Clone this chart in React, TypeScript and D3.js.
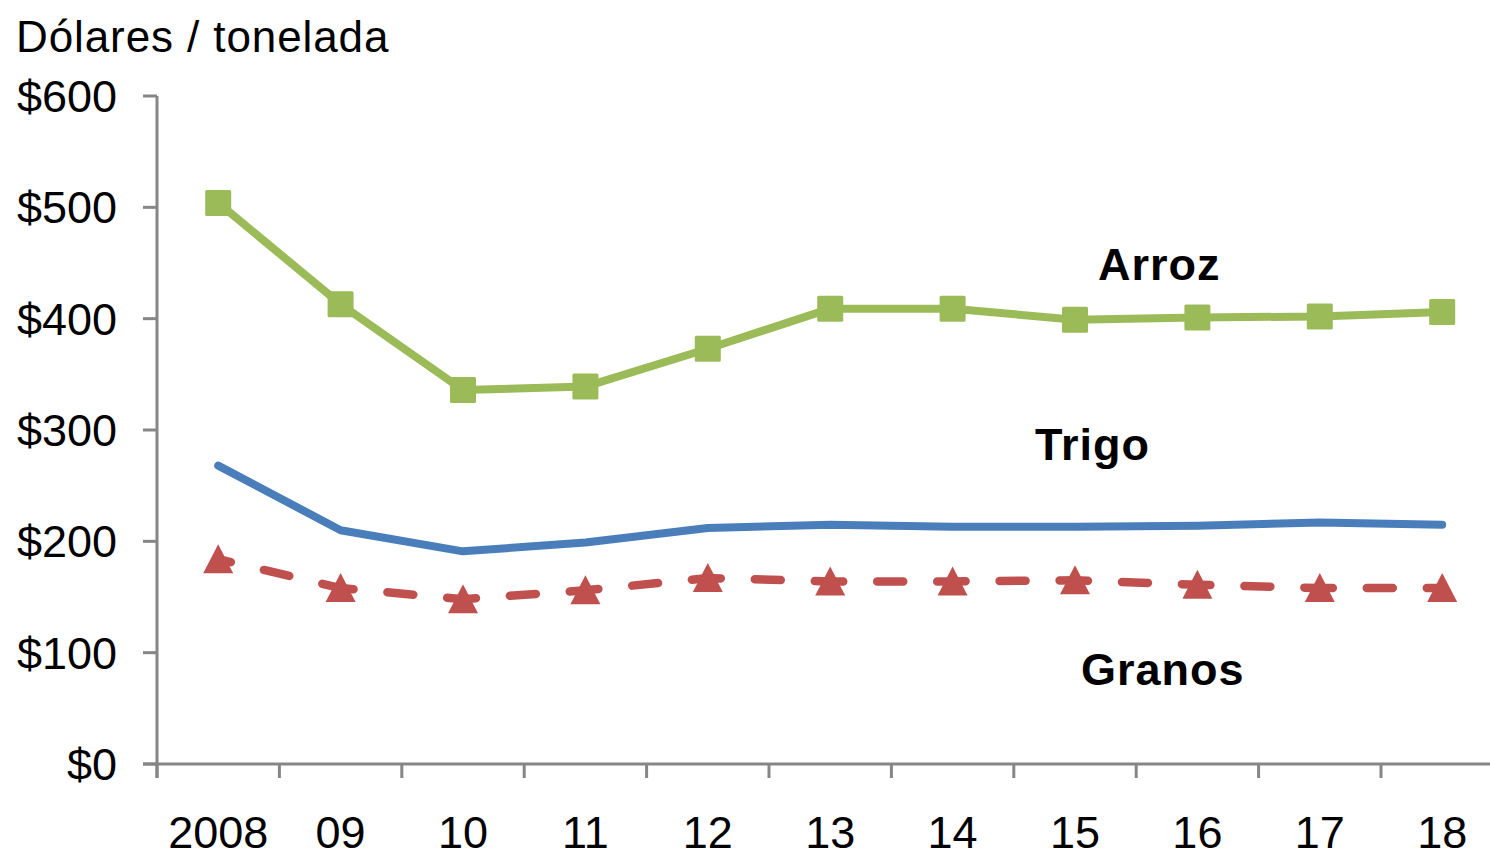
import React from "react";
import * as d3 from "d3";

const years = ["2008", "09", "10", "11", "12", "13", "14", "15", "16", "17", "18"];
const arroz = [504, 413, 336, 339, 373, 409, 409, 399, 401, 402, 406];
const trigo = [268, 210, 191, 199, 212, 215, 213, 213, 214, 217, 215];
const granos = [184, 158, 148, 156, 167, 164, 164, 165, 161, 158, 158];
const yTicks = [0, 100, 200, 300, 400, 500, 600];

const W = 1490;
const H = 851;
const FONT = "'Liberation Sans', Arial, sans-serif";

export default function App() {
  const x = d3.scaleBand<string>().domain(years).range([157, 157 + 122.4 * years.length]).paddingInner(0).paddingOuter(0);
  const y = d3.scaleLinear().domain([0, 600]).range([764, 96]);
  const cx = (i: number) => (x(years[i]) as number) + x.bandwidth() / 2;
  const line = d3.line<number>().x((_, i) => cx(i)).y((d) => y(d));

  const axisColor = "#868686";
  const green = "#9BBB59";
  const blue = "#4A7EBB";
  const red = "#C0504D";

  const tri = "M0,-15L15,14L-15,14Z";
  const xTickPositions = years.map((yr) => x(yr) as number).concat([x.range()[1]]);

  return (
    <svg width={W} height={H} style={{ position: "fixed", left: 0, top: 0, background: "#fff" }} fontFamily={FONT}>
      <text x={16} y={52} fontSize={44} letterSpacing={0.9} fill="#000">Dólares / tonelada</text>

      {/* y axis */}
      <line x1={157} x2={157} y1={y(600)} y2={778} stroke={axisColor} strokeWidth={3} />
      {yTicks.map((t) => (
        <g key={t}>
          <line x1={143} x2={157} y1={y(t)} y2={y(t)} stroke={axisColor} strokeWidth={3} />
          <text x={117} y={y(t) + 16} textAnchor="end" fontSize={45} fill="#000">${t}</text>
        </g>
      ))}

      {/* x axis */}
      <line x1={143} x2={W + 20} y1={y(0)} y2={y(0)} stroke={axisColor} strokeWidth={3} />
      {xTickPositions.map((p, i) => (
        <line key={i} x1={p} x2={p} y1={y(0)} y2={778} stroke={axisColor} strokeWidth={3} />
      ))}
      {years.map((yr, i) => (
        <text key={yr} x={cx(i)} y={848} textAnchor="middle" fontSize={45} fill="#000">{yr}</text>
      ))}

      {/* Trigo */}
      <path d={line(trigo) || ""} fill="none" stroke={blue} strokeWidth={8} strokeLinecap="round" strokeLinejoin="round" />

      {/* Granos dashed, pattern restarting at each point */}
      {granos.slice(1).map((v, i) => (
        <path
          key={i}
          d={`M${cx(i)},${y(granos[i])}L${cx(i + 1)},${y(v)}`}
          fill="none"
          stroke={red}
          strokeWidth={8.5}
          strokeLinecap="round"
          strokeDasharray="13 34 26 34 26 34"
        />
      ))}
      {granos.map((v, i) => (
        <path key={i} d={tri} transform={`translate(${cx(i)},${y(v)})`} fill={red} />
      ))}

      {/* Arroz */}
      <path d={line(arroz) || ""} fill="none" stroke={green} strokeWidth={8} strokeLinejoin="round" />
      {arroz.map((v, i) => (
        <rect key={i} x={cx(i) - 13} y={y(v) - 13} width={26} height={26} rx={1.5} fill={green} />
      ))}

      {/* labels */}
      <text x={1098} y={280} fontSize={45} fontWeight="bold" letterSpacing={1} fill="#000">Arroz</text>
      <text x={1035} y={460} fontSize={45} fontWeight="bold" letterSpacing={1} fill="#000">Trigo</text>
      <text x={1081} y={685} fontSize={45} fontWeight="bold" letterSpacing={1} fill="#000">Granos</text>
    </svg>
  );
}
